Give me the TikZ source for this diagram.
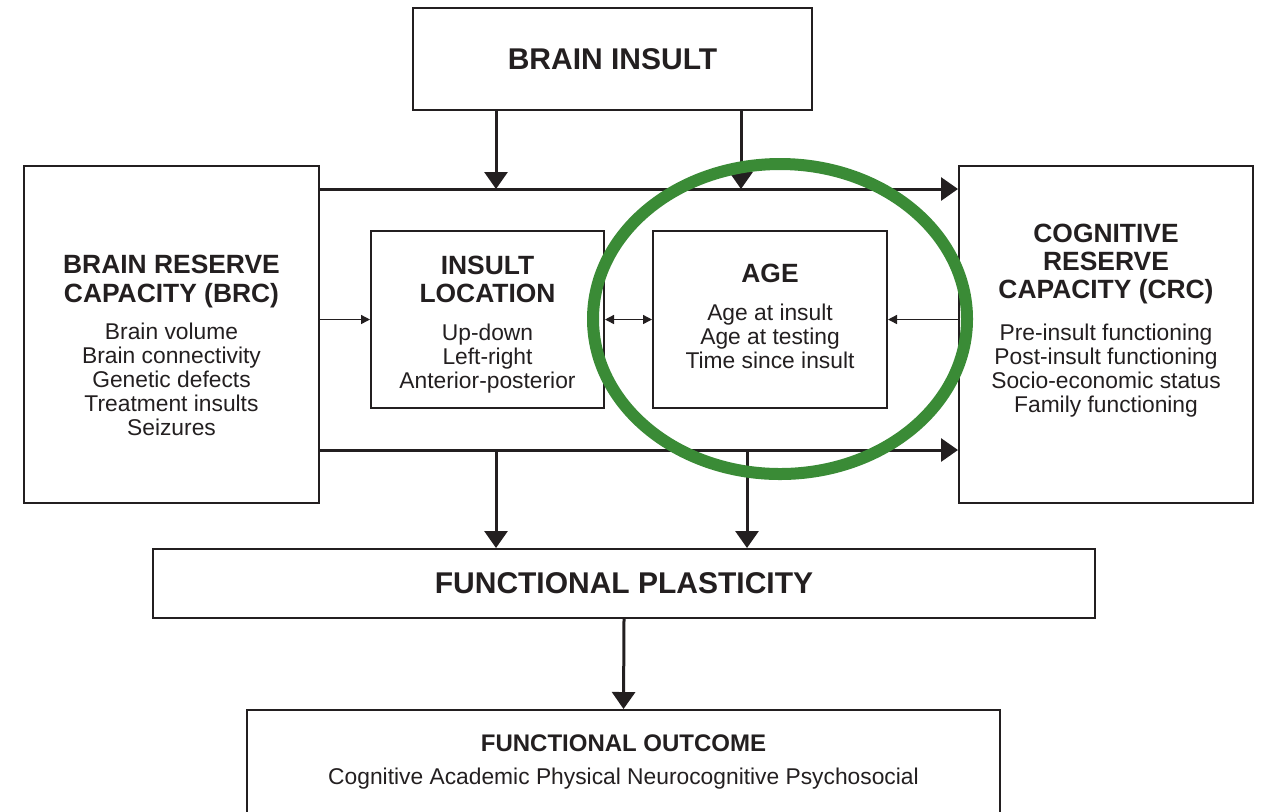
\documentclass[tikz,border=0pt]{standalone}
\usepackage{fontspec}
\setmainfont{Liberation Sans}
\usetikzlibrary{positioning}
\usetikzlibrary{arrows.meta}

\definecolor{ink}{HTML}{231F20}
\definecolor{ringgreen}{HTML}{3A8B36}
\newcommand\bigfont{\fontsize{15}{17}\selectfont\bfseries}
\newcommand\headfont{\fontsize{13.2}{14.5}\selectfont\bfseries}
\newcommand\itemfont{\fontsize{11.4}{12.25}\selectfont}

\begin{document}
\begin{tikzpicture}[x=0.5pt, y=-0.5pt,
    box/.style={draw=ink, line width=1pt, align=center, inner sep=0pt, text=ink},
    flow/.style={draw=ink, line width=1.5pt, -{Triangle[length=8.5pt, width=11.5pt]}},
    link/.style={draw=ink, line width=0.7pt, -{Triangle[length=4.5pt, width=4.5pt]}},
    twolink/.style={draw=ink, line width=0.7pt, {Triangle[length=4.5pt, width=4.5pt]}-{Triangle[length=4.5pt, width=4.5pt]}}]
  \useasboundingbox (0,0) rectangle (1261,811);

  % Cajas
  \node[box, minimum width=199.5pt, minimum height=51pt, font=\bigfont] (insult) at (612.5,59) {BRAIN INSULT};
  \node[box, minimum width=147.5pt, minimum height=168.5pt] (brc) at (171.5,334.5)
    {\headfont\rule{0pt}{20.5pt}BRAIN RESERVE\\[2.25pt] \headfont CAPACITY (BRC)\\[6.75pt]
     \itemfont Brain volume\\ \itemfont Brain connectivity\\ \itemfont Genetic defects\\
     \itemfont Treatment insults\\ \itemfont Seizures};
  \node[box, minimum width=147pt, minimum height=168.5pt] (crc) at (1106,334.5)
    {\headfont COGNITIVE\\[2pt] \headfont RESERVE\\[2pt] \headfont CAPACITY (CRC)\\[8.75pt]
     \itemfont Pre-insult functioning\\ \itemfont Post-insult functioning\\
     \itemfont Socio-economic status\\ \itemfont Family functioning\rule[-16pt]{0pt}{0pt}};
  \node[box, minimum width=116.5pt, minimum height=88.5pt] (location) at (487.5,319.5)
    {\headfont\rule{0pt}{14pt}INSULT\\[2.25pt] \headfont LOCATION\\[6.75pt]
     \itemfont Up-down\\ \itemfont Left-right\\ \itemfont Anterior-posterior};
  \node[box, minimum width=117pt, minimum height=88.5pt] (age) at (770,319.5)
    {\headfont AGE\\[6.75pt]
     \itemfont Age at insult\\ \itemfont Age at testing\\ \itemfont Time since insult\rule[-3pt]{0pt}{0pt}};
  \node[box, minimum width=471pt, minimum height=34.5pt, font=\bigfont] (plasticity) at (624,583.5) {FUNCTIONAL PLASTICITY};
  \node[box, minimum width=376.5pt, minimum height=100pt, anchor=north] (outcome) at (623.5,709) {};
  \node[anchor=base, text=ink, font={\fontsize{12}{14}\selectfont\bfseries}] (outcomehead)
    at ([yshift=-21pt]outcome.north) {FUNCTIONAL OUTCOME};
  \node[anchor=base, text=ink, font=\itemfont] (outcomelist)
    at ([yshift=-37.5pt]outcome.north) {Cognitive Academic Physical Neurocognitive Psychosocial};

  % Lineas principales
  \coordinate (topL) at ([yshift=-12pt]brc.north east);
  \coordinate (botL) at ([yshift=27pt]brc.south east);
  \draw[flow] (topL) -- (topL -| crc.west);
  \draw[flow] (botL) -- (botL -| crc.west);

  % Flechas verticales
  \coordinate (d1) at ([xshift=42pt]insult.south west);
  \coordinate (d2) at ([xshift=-36pt]insult.south east);
  \coordinate (d3) at ([xshift=47.5pt]age.south west);
  \draw[flow] (d1) -- (d1 |- topL);
  \draw[flow] (d2) -- (d2 |- topL);
  \draw[flow] (botL -| d1) -- (d1 |- plasticity.north);
  \draw[flow] (botL -| d3) -- (d3 |- plasticity.north);
  \draw[flow] (plasticity.south) -- (outcome.north);

  % Flechas finas
  \draw[link] (brc.east |- location.west) -- (location.west);
  \draw[twolink] (location.east) -- (age.west);
  \draw[link] (crc.west |- age.east) -- (age.east);

  % Elipse
  \draw[ringgreen, line width=6pt] (780,319) ellipse [x radius=187, y radius=155];
\end{tikzpicture}
\end{document}
